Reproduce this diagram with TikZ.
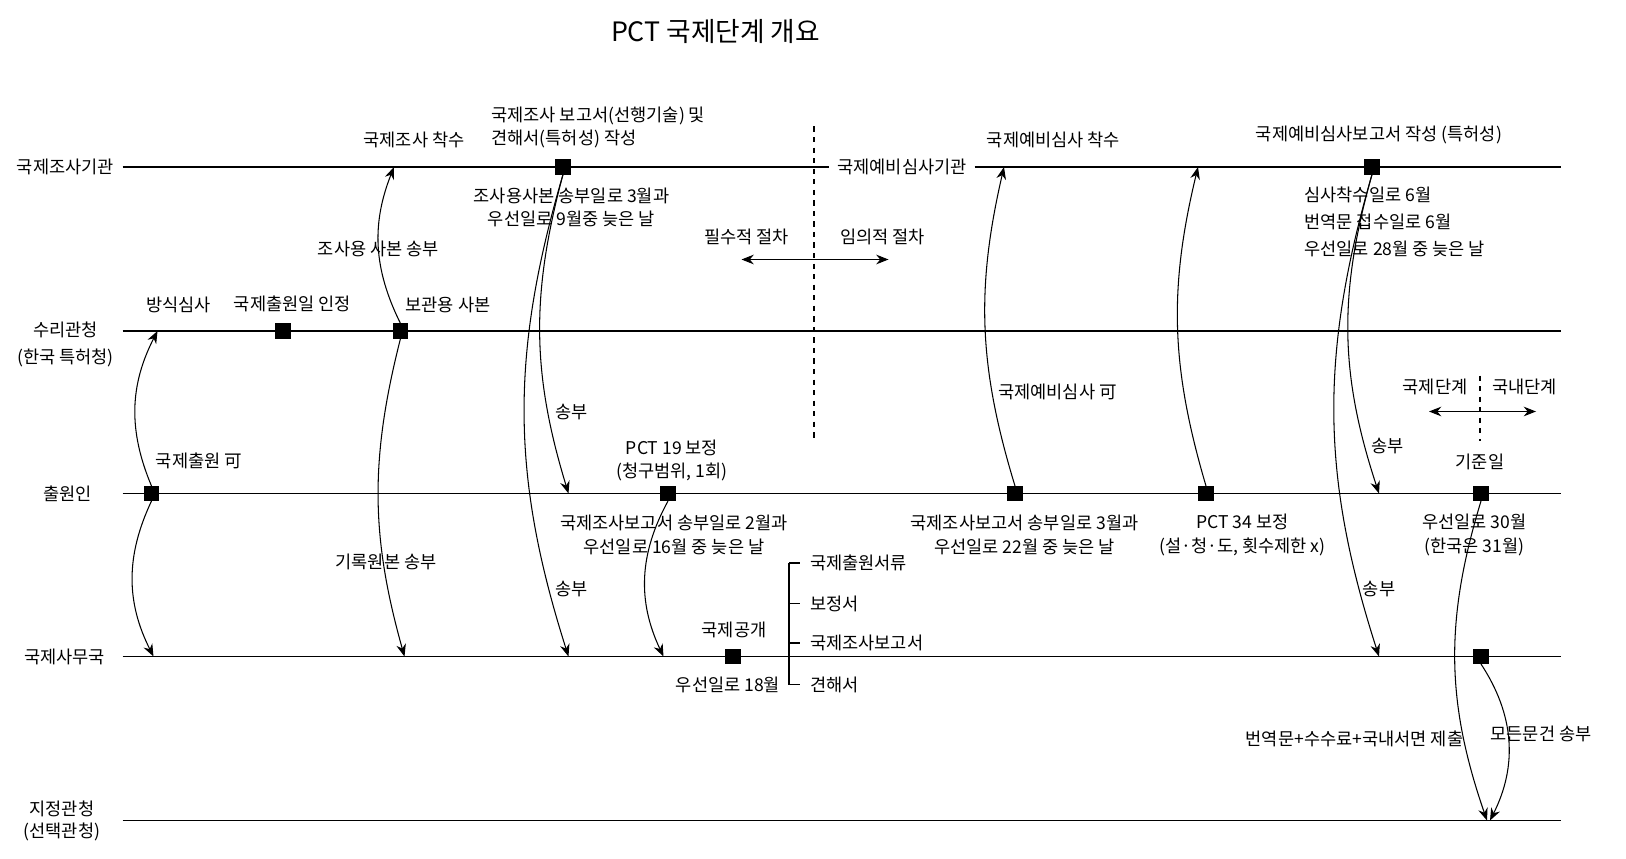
\documentclass[tikz,border=0pt]{standalone}
\usepackage{fontspec}
\setmainfont{Noto Sans CJK KR}
\usetikzlibrary{arrows.meta}

\begin{document}
\begin{tikzpicture}[font=\fontsize{10}{13.5}\selectfont, line width=0.6pt,
  sqbox/.style={draw, fill=black, minimum size=0.28cm, inner sep=0pt},
  tl/.style={-{Stealth[length=7pt,width=5.5pt]}},
  lbl/.style={align=center}]
\useasboundingbox (0,0) rectangle (32.52,17.16);

\node (title) at (14.31,16.54) {\fontsize{15.2}{17}\selectfont PCT 국제단계 개요};

\node (isa) at (1.31,13.82) {국제조사기관};
\node[lbl] (rolbl) at (1.31,10.27) {수리관청\\[2pt](한국 특허청)};
\node (aplbl) at (1.35,7.29) {출원인};
\node (iblbl) at (1.29,4.03) {국제사무국};
\node[lbl, font=\fontsize{10}{12.5}\selectfont] (dolbl) at (1.24,0.75) {지정관청\\(선택관청)};

\foreach \n/\y in {ia/13.82, ro/10.54, ap/7.29, ib/4.03, do/0.75} {
  \coordinate (\n w) at (2.45,\y);
  \coordinate (\n e) at (31.21,\y);
}
\node[inner sep=0.15cm] (ipea) at (18.04,13.82) {국제예비심사기관};
\draw (iaw) -- (ipea.west);
\draw (ipea.east) -- (iae);
\foreach \n in {ro,ap,ib,do} \draw (\n w) -- (\n e);

\node[sqbox] (isr) at (11.26,13.82) {};
\node[sqbox] (iper) at (27.44,13.82) {};
\node[sqbox] (fdate) at (5.66,10.54) {};
\node[sqbox] (rcopy) at (8.01,10.54) {};
\node[sqbox] (filing) at (3.03,7.29) {};
\node[sqbox] (art19) at (13.36,7.29) {};
\node[sqbox] (demand) at (20.30,7.29) {};
\node[sqbox] (art34) at (24.12,7.29) {};
\node[sqbox] (base) at (29.62,7.29) {};
\node[sqbox] (pub) at (14.66,4.03) {};
\node[sqbox] (comm) at (29.62,4.03) {};

\coordinate (e1) at (3.15,10.54);
\coordinate (e2) at (3.07,4.03);
\coordinate (e3) at (7.88,13.82);
\coordinate (e4) at (8.09,4.03);
\coordinate (e5) at (11.37,7.29);
\coordinate (e6) at (11.37,4.03);
\coordinate (e7) at (13.27,4.03);
\coordinate (e8) at (20.08,13.82);
\coordinate (e9) at (23.96,13.82);
\coordinate (e10) at (27.58,7.29);
\coordinate (e11) at (27.58,4.03);
\coordinate (e12) at (29.74,0.75);
\coordinate (e13) at (29.80,0.75);

\draw[tl] (filing.north) to[bend left=25] (e1);
\draw[tl] (filing.south) to[bend right=26] (e2);
\draw[tl] (rcopy.north) to[bend left=24] (e3);
\draw[tl] (rcopy.south) to[bend right=15] (e4);
\draw[tl] (isr.south) to[bend right=16] (e5);
\draw[tl] (isr.south) to[bend right=17] (e6);
\draw[tl] (art19.south) to[bend right=27] (e7);
\draw[tl] (demand.north) to[bend left=15] (e8);
\draw[tl] (art34.north) to[bend left=15] (e9);
\draw[tl] (iper.south) to[bend right=17] (e10);
\draw[tl] (iper.south) to[bend right=17] (e11);
\draw[tl] (base.south) to[bend right=18] (e12);
\draw[tl] (comm.south) to[bend left=30] (e13);

\node (formal) at (3.57,11.06) {방식심사};
\node (fdatel) at (5.85,11.08) {국제출원일 인정};
\node (rcopyl) at (8.96,11.06) {보관용 사본};
\node (isstart) at (8.28,14.36) {국제조사 착수};
\node (scopy) at (7.57,12.18) {조사용 사본 송부};
\node (filingl) at (3.98,7.95) {국제출원 可};
\node (rectx) at (7.72,5.92) {기록원본 송부};
\node[anchor=west, align=left] (isrl) at (9.70,14.61) {국제조사 보고서(선행기술) 및\\견해서(특허성) 작성};
\node[lbl] (isrdue) at (11.43,13.01) {조사용사본 송부일로 3월과\\우선일로 9월중 늦은 날};
\node (tx1) at (11.43,8.91) {송부};
\node (tx2) at (11.43,5.38) {송부};
\node[lbl] (art19l) at (13.44,7.95) {PCT 19 보정\\(청구범위, 1회)};
\node[lbl] (art19due) at (13.48,6.46) {국제조사보고서 송부일로 2월과\\우선일로 16월 중 늦은 날};
\node (publ) at (14.68,4.57) {국제공개};
\node (pubdue) at (14.56,3.47) {우선일로 18월};

\coordinate (bt1) at (15.78,5.90);
\coordinate (bt2) at (15.78,5.09);
\coordinate (bt3) at (15.78,4.30);
\coordinate (bt4) at (15.78,3.47);
\node[anchor=west, inner xsep=0.2cm] (pb1) at (15.99,5.90) {국제출원서류};
\node[anchor=west, inner xsep=0.2cm] (pb2) at (15.99,5.09) {보정서};
\node[anchor=west, inner xsep=0.2cm] (pb3) at (15.99,4.30) {국제조사보고서};
\node[anchor=west, inner xsep=0.2cm] (pb4) at (15.99,3.47) {견해서};
\draw (bt1) -- (bt4);
\foreach \i in {1,...,4} \draw (bt\i) -- (pb\i.west);

\coordinate (dv1t) at (16.28,14.63);
\coordinate (dv1b) at (16.28,8.35);
\coordinate (ph1l) at (14.83,11.97);
\coordinate (ph1r) at (17.77,11.97);
\draw[dashed] (dv1t) -- (dv1b);
\draw[{Stealth[length=7pt,width=5.5pt]}-{Stealth[length=7pt,width=5.5pt]}] (ph1l) -- (ph1r);
\node (must) at (14.93,12.43) {필수적 절차};
\node (opt) at (17.65,12.43) {임의적 절차};

\node (ipestart) at (21.07,14.36) {국제예비심사 착수};
\node (demandl) at (21.15,9.32) {국제예비심사 可};
\node[lbl] (demanddue) at (20.49,6.46) {국제조사보고서 송부일로 3월과\\우선일로 22월 중 늦은 날};
\node[lbl] (art34l) at (24.85,6.46) {PCT 34 보정\\(설·청·도, 횟수제한 x)};
\node (iperl) at (27.58,14.46) {국제예비심사보고서 작성 (특허성)};
\node[anchor=west, align=left] (iperdue) at (25.96,12.72) {심사착수일로 6월\\[2pt]번역문 접수일로 6월\\[2pt]우선일로 28월 중 늦은 날};
\node (tx3) at (27.75,8.24) {송부};
\node (tx4) at (27.58,5.38) {송부};

\coordinate (dv2t) at (29.60,9.65);
\coordinate (dv2b) at (29.60,8.35);
\coordinate (ph2l) at (28.58,8.93);
\coordinate (ph2r) at (30.72,8.93);
\draw[dashed] (dv2t) -- (dv2b);
\draw[{Stealth[length=7pt,width=5.5pt]}-{Stealth[length=7pt,width=5.5pt]}] (ph2l) -- (ph2r);
\node (intl) at (28.70,9.42) {국제단계};
\node (natl) at (30.49,9.42) {국내단계};
\node (basel) at (29.60,7.93) {기준일};
\node[lbl] (basedue) at (29.49,6.46) {우선일로 30월\\(한국은 31월)};
\node (entry) at (27.09,2.39) {번역문+수수료+국내서면 제출};
\node (alldocs) at (30.82,2.48) {모든문건 송부};
\end{tikzpicture}
\end{document}
